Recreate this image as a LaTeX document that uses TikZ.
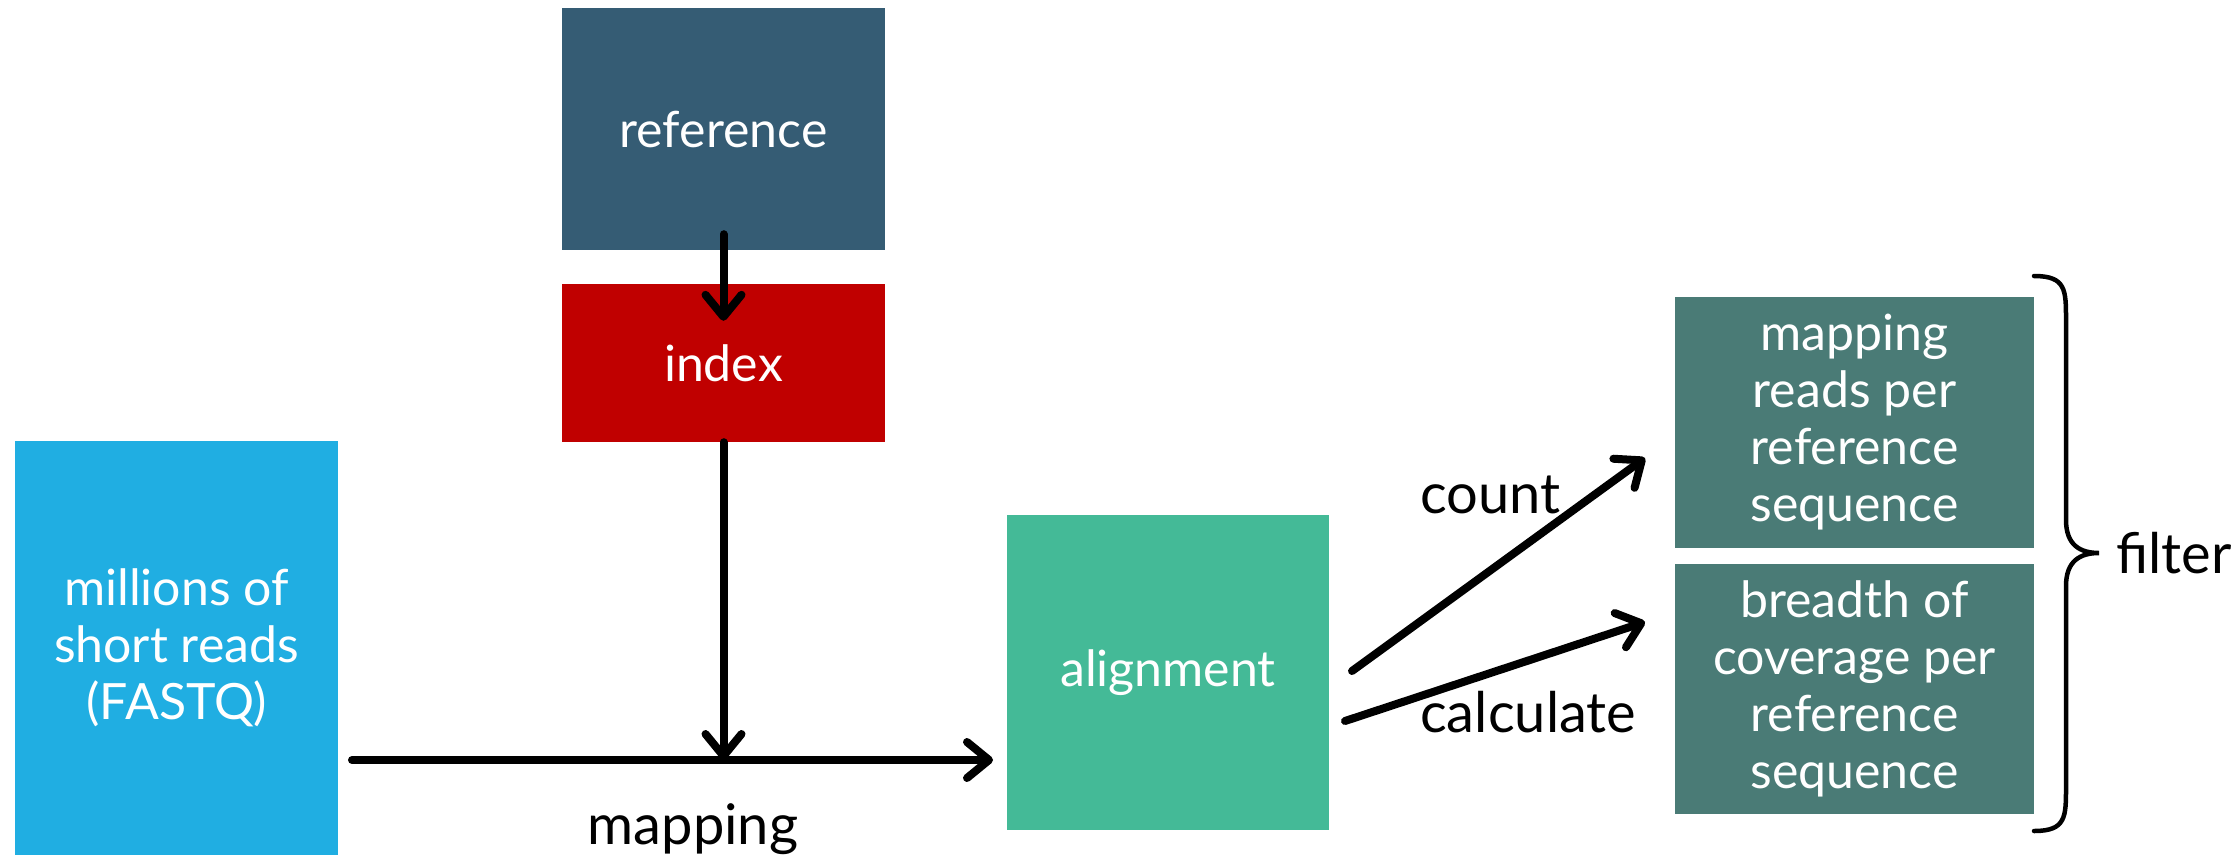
\documentclass[tikz,border=0pt]{standalone}
\usepackage{fontspec}
\setmainfont{Lato}
\usetikzlibrary{arrows.meta}
\definecolor{refblue}{RGB}{53,92,116}
\definecolor{idxred}{RGB}{192,0,0}
\definecolor{readsblue}{RGB}{32,174,226}
\definecolor{aligngreen}{RGB}{68,186,151}
\definecolor{resteal}{RGB}{74,123,118}
\begin{document}
\begin{tikzpicture}[x=1pt,y=-1pt,
  box/.style={rectangle, inner sep=0pt, text=white, align=center,
    font=\fontsize{50}{57}\selectfont},
  lbl/.style={inner sep=0pt, text=black, font=\fontsize{56}{60}\selectfont},
  arr/.style={line width=8pt, line cap=round,
    -{Straight Barb[length=22pt,width=36pt,line cap=round,line join=round]}}]
\useasboundingbox (0,0) rectangle (2240,857);

% boxes
\node[box, fill=refblue, minimum width=323pt, minimum height=242pt] (ref) at (723.5,129) {reference};
\node[box, fill=idxred, minimum width=323pt, minimum height=158pt] (idx) at (723.5,363) {index};
\node[box, fill=readsblue, minimum width=323pt, minimum height=414pt] (reads) at (176.5,648) {millions of\\short reads\\(FASTQ)};
\node[box, fill=aligngreen, minimum width=322pt, minimum height=315pt] (align) at (1168,672.5) {alignment};
\node[box, fill=resteal, minimum width=359pt, minimum height=251pt] (counts) at (1854.5,422.5) {mapping\\reads per\\reference\\sequence};
\node[box, fill=resteal, minimum width=359pt, minimum height=250pt] (breadth) at (1854.5,689) {breadth of\\coverage per\\reference\\sequence};

% connector points
\coordinate (join) at (723.5,760);
\coordinate (hs) at (352,760);
\coordinate (he) at (993,760);
\coordinate (c1) at (1352,671);
\coordinate (c2) at (1645,458);
\coordinate (k1) at (1345,721);
\coordinate (k2) at (1645,622);

% arrows
\draw[arr] ([yshift=16pt]ref.south) -- ([yshift=-37pt]idx.north);
\draw[arr] (idx.south) -- (join);
\draw[arr] (hs) -- (he);
\draw[arr] (c1) -- (c2);
\draw[arr] (k1) -- (k2);

% brace
\draw[line width=4.5pt, line cap=round] (2034,276) .. controls (2066,276) and (2066,290) .. (2066,320)
  -- (2066,520) .. controls (2066,545) and (2080,553) .. (2099,553)
  .. controls (2080,553) and (2066,561) .. (2066,586)
  -- (2066,787) .. controls (2066,817) and (2066,831) .. (2034,831);

% labels
\node[lbl, anchor=base] (maplbl) at (693,844) {mapping};
\node[lbl, anchor=base west] (countlbl) at (1420,513) {count};
\node[lbl, anchor=base west] (calclbl) at (1420,732) {calculate};
\node[lbl, anchor=base west] (filterlbl) at (2116,573) {filter};
\end{tikzpicture}
\end{document}
